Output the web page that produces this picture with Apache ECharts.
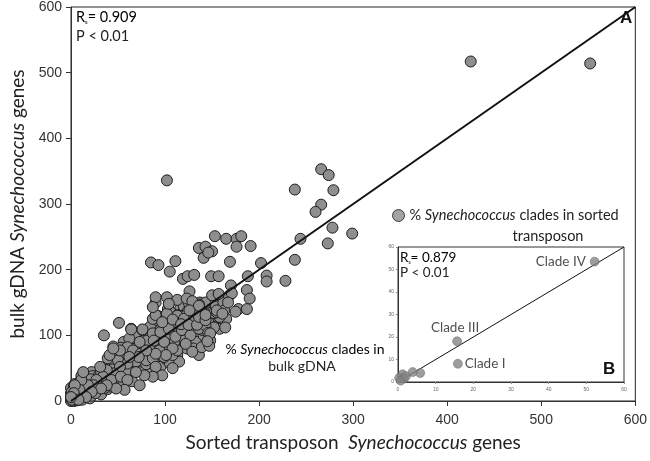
<!DOCTYPE html>
<html><head><meta charset="utf-8">
<script src="https://cdn.jsdelivr.net/npm/echarts@6/dist/echarts.min.js"></script>
<style>html,body{margin:0;padding:0;background:#fff}#c{width:650px;height:461px}</style>
</head><body><div id="c"></div>
<script>
// ---- main panel data: [sorted transposon genes, bulk gDNA genes] ----
const clusterCore = [
[0,0],[1,2],[2,1],[3,5],[5,3],[4,8],[6,6],[8,4],[7,10],[10,7],[9,13],[12,9],[11,16],[14,11],[13,19],[16,14],[15,22],[18,16],[17,25],[20,19],
[19,28],[22,22],[21,31],[24,25],[23,34],[26,28],[25,36],[28,30],[27,40],[30,33],[3,0],[6,1],[9,2],[12,4],[15,6],[18,8],[21,10],[24,13],[27,16],[30,19],
[33,22],[0,5],[1,9],[2,14],[3,18],[5,22],[8,27],[10,30],[0,12],[4,26],[2,3],[5,15],[7,20],[10,24],[13,27],[16,31],[18,36],[20,40],[22,44],[14,35],
[11,38],[0,20],
[2,4],[4,10],[6,16],[3,22],[8,12],[9,20],[5,2],[10,5],[7,8],[1,14],
[12,2],[14,8],[11,12],[15,15],[13,22],[17,20],[19,27],[16,30],[12,28],[18,11],[20,4],
[22,8],[24,16],[26,22],[21,24],[25,30],[28,35],[23,38],[29,12],[27,26],[30,40],[21,33],
[32,10],[34,24],[36,30],[31,28],[33,36],[38,40],[35,45],[39,18],[37,34],[40,28],[32,44],
[42,22],[44,36],[46,40],[41,50],[48,46],[43,58],[47,30],[49,55],[45,26],[50,38],[44,62],
[52,28],[54,44],[56,52],[51,60],[58,48],[53,68],[57,36],[59,58],[55,24],[60,66],[52,72],
[62,40],[64,50],[66,60],[61,72],[68,56],[63,85],[67,70],[70,48],[65,30],[69,88],[62,64],
[72,52],[74,62],[76,80],[71,70],[78,66],[73,95],[77,56],[79,90],[75,44],[80,74],
[82,60],[84,70],[86,86],[81,100],[88,80],[83,54],[87,96],[89,66],[85,48],[90,110],
[92,72],[94,84],[96,100],[91,118],[98,88],[93,60],[97,112],[99,76],[95,52],[100,96],
[102,86],[104,104],[106,118],[101,64],[108,96],[103,140],[107,76],[109,112],[105,58],[110,122],
[112,96],[114,110],[116,140],[111,84],[118,100],[113,70],[117,132],[119,118],[115,60],[120,144],
[122,106],[124,120],[126,142],[121,94],[128,112],[123,80],[127,132],[129,100],[125,150],
[132,110],[134,124],[136,100],[131,138],[138,118],[133,90],[137,150],[139,128],[135,76],
[142,118],[144,140],[146,110],[141,100],[148,126],[143,150],[147,96],[150,135],
[152,120],[154,145],[156,128],[158,110],[153,160],[160,140],
[162,150],[165,125],[168,160],[163,138],
[56,90],[66,96],[78,100],[84,84],[96,70],[104,90],[112,120],[118,130],[124,136],[132,124],
[140,108],[146,120],[152,112],[158,128],[164,112],[100,118],[90,100],[80,56],[70,64],[60,46],
[48,40],[36,20],[26,12],[44,48],[56,74]
];
const clusterMid = [
[51,119],[35,100],[45,83],[53,81],[43,70],[39,65],[50,62],[64,110],[69,103],[76,108],
[84,113],[94,107],[90,92],[104,98],[110,90],[102,82],[94,77],[81,92],[73,90],[62,95],
[60,82],[66,77],[74,72],[69,60],[80,62],[87,65],[90,52],[99,67],[108,70],[113,77],
[108,50],[97,39],[87,37],[73,24],[78,39],[69,44],[60,57],[52,52],[45,42],[38,47],
[34,37],[27,32],[24,24],[18,24],[11,32],[13,44],[31,52],[43,32],[53,37],[60,32],
[57,17],[48,19],[38,24],[32,19],[22,14],[16,6],[9,17],[4,24],[3,12],[1,2],[8,2],[0,6],
[92,130],[101,125],[108,133],[90,150],[104,148],
[87,125],[97,128],[106,135],[113,130],[117,123],[122,130],[130,139],[136,147],[142,133],[152,134],
[150,161],[155,135],[64,109],[76,109],[87,103],[95,105],[104,110],[111,98],[118,108],[127,100],
[136,110],[143,115],[148,92],[146,104],[130,80],[136,70],[108,80],[101,70],[90,72],[80,77],
[72,67],[62,67],[52,77],[41,70],[45,80],[88,92],[99,90],[122,87],[139,82],
[90,131],[102,133],[113,130],[120,125],[108,124],[97,120],[117,117],[125,116],[134,116],[136,128],[143,123]
];
const clusterUpper = [
[153,251],[165,247],[176,247],[181,251],[176,235],[191,236],[136,233],[143,235],[150,228],[141,218],
[146,226],[85,211],[93,207],[111,213],[105,197],[119,186],[124,190],[131,192],[149,190],[157,190],
[188,190],[208,191],[208,182],[202,210],[169,212],[238,215],[228,183],[126,167],[90,158],[87,143],
[102,158],[113,154],[123,156],[104,148],[129,152],[136,145],[126,138],[143,131],[170,176],[171,164],
[157,163],[167,150],[187,169],[190,156],[178,140],[187,140],[175,136],[155,138],[161,133],[148,103],
[147,84],[145,91],[129,75]
];
const outliers = [
[102,336],[266,353],[274,344],[238,322],[279,321],[266,299],[260,288],[278,264],[299,255],[244,247],
[273,240],[425,517],[552,514]
];
const identityLine = [[0,0],[600,600]];
const mainTicks = [0,100,200,300,400,500,600];

// ---- inset (B): % Synechococcus clades ----
const cladeSorted = [52.2,15.7,15.9,5.9,3.9,1.2,0.3,1.6,0.7,2.1];
const cladeBulk   = [53.5,18.1,8.1,4.0,4.4,3.4,1.8,1.5,0.6,2.6];
const cladeNames  = ['Clade IV','Clade III','Clade I','','','','','','',''];
const insetLine = [[0,0],[60,60]];
const insetTicks = [0,10,20,30,40,50,60];

const TXT = 'Lato';
const chart = echarts.init(document.getElementById('c'), null, {renderer:'canvas'});
const labelPos = {'Clade IV':{position:'left',distance:4},'Clade III':{position:'top',distance:2,offset:[-2,0]},'Clade I':{position:'right',distance:2}};

const insetData = cladeSorted.map((x,i)=>{
  const d = {value:[x,cladeBulk[i]], name:cladeNames[i]};
  if (cladeNames[i]) {
    d.label = Object.assign({show:true, formatter:'{b}', fontFamily:TXT, fontSize:13.5, color:'#222'}, labelPos[cladeNames[i]]);
  }
  return d;
});

const option = {
  animation:false,
  backgroundColor:'#fff',
  grid:[
    {left:71, top:5, right:9, bottom:60, show:true, borderColor:'#222', borderWidth:1, backgroundColor:'transparent'},
    {left:398, top:247, width:226, height:135, show:true, borderColor:'#333', borderWidth:1, backgroundColor:'#fff', z:5}
  ],
  xAxis:[
    {type:'value', gridIndex:0, min:mainTicks[0], max:mainTicks[mainTicks.length-1], interval:100,
     axisLine:{show:true, lineStyle:{color:'#333', width:1}}, axisTick:{show:true, length:5, lineStyle:{color:'#333'}},
     splitLine:{show:false},
     axisLabel:{fontFamily:'Liberation Sans', fontSize:14, color:'#333', margin:12},
     name:'{n|Sorted transposon  }{i|Synechococcus}{n| genes}', nameLocation:'middle', nameGap:32,
     nameTextStyle:{rich:{n:{fontFamily:TXT, fontSize:19, color:'#222'}, i:{fontFamily:TXT, fontSize:19, fontStyle:'italic', color:'#222'}}}},
    {type:'value', gridIndex:1, min:insetTicks[0], max:insetTicks[insetTicks.length-1], interval:10,
     axisLine:{show:true, lineStyle:{color:'#333'}}, axisTick:{show:true, length:2, lineStyle:{color:'#888'}},
     splitLine:{show:false}, axisLabel:{fontFamily:'Liberation Sans', fontSize:5, color:'#666', margin:5}, z:6}
  ],
  yAxis:[
    {type:'value', gridIndex:0, min:mainTicks[0], max:mainTicks[mainTicks.length-1], interval:100,
     axisLine:{show:true, lineStyle:{color:'#333', width:1}}, axisTick:{show:true, length:5, lineStyle:{color:'#333'}},
     splitLine:{show:false},
     axisLabel:{fontFamily:'Liberation Sans', fontSize:14, color:'#333', margin:9},
     name:'{n|bulk gDNA }{i|Synechococcus}{n| genes}', nameLocation:'middle', nameGap:36, nameRotate:90,
     nameTextStyle:{rich:{n:{fontFamily:TXT, fontSize:19, color:'#222'}, i:{fontFamily:TXT, fontSize:19, fontStyle:'italic', color:'#222'}}}},
    {type:'value', gridIndex:1, min:insetTicks[0], max:insetTicks[insetTicks.length-1], interval:10,
     axisLine:{show:true, lineStyle:{color:'#333'}}, axisTick:{show:true, length:2, lineStyle:{color:'#888'}},
     splitLine:{show:false}, axisLabel:{fontFamily:'Liberation Sans', fontSize:5, color:'#666', margin:4}, z:6}
  ],
  legend:{
    show:true, selectedMode:false, left:392, top:208, padding:0, itemWidth:12, itemHeight:12, itemGap:5,
    data:[{name:'sorted', icon:'circle', itemStyle:{color:'#8c8c8c', borderColor:'#1a1a1a', borderWidth:1}}],
    formatter:()=> '{n|% }{i|Synechococcus}{n| clades in sorted}',
    textStyle:{rich:{n:{fontFamily:TXT, fontSize:14.5, color:'#222'}, i:{fontFamily:TXT, fontSize:14.5, fontStyle:'italic', color:'#222'}}}
  },
  series:[
    {type:'scatter', xAxisIndex:0, yAxisIndex:0, symbolSize:11, name:'main',
     data:[].concat(clusterCore, clusterMid, clusterUpper, outliers),
     itemStyle:{color:'#8e8e8e', borderColor:'#1c1c1c', borderWidth:1, opacity:1}, z:2},
    {type:'line', xAxisIndex:0, yAxisIndex:0, data:identityLine, symbol:'none',
     lineStyle:{color:'#111', width:2}, z:3, silent:true},
    {type:'line', xAxisIndex:1, yAxisIndex:1, data:insetLine, symbol:'none',
     lineStyle:{color:'#111', width:1}, z:7, silent:true},
    {type:'scatter', name:'sorted', xAxisIndex:1, yAxisIndex:1, symbolSize:9, data:insetData,
     itemStyle:{color:'#858585', borderColor:'#666', borderWidth:0.6}, z:8}
  ],
  graphic:[
    {type:'text', left:76, top:10, z:20, style:{text:'{r|R}{s|s}{r|= 0.909}', rich:{r:{fontFamily:TXT, fontSize:14.5, color:'#222'}, s:{fontFamily:TXT, fontSize:6, color:'#222', verticalAlign:'bottom'}}}},
    {type:'text', left:76, top:29, z:20, style:{text:'P < 0.01', fontFamily:TXT, fontSize:14.5, fill:'#222'}},
    {type:'text', left:620, top:10, z:20, style:{text:'A', fontFamily:'Liberation Sans', fontWeight:'bold', fontSize:17, fill:'#111'}},
    {type:'text', left:603, top:361, z:20, style:{text:'B', fontFamily:'Liberation Sans', fontWeight:'bold', fontSize:17, fill:'#111'}},
    {type:'text', x:548, y:236, z:20, style:{text:'transposon', fontFamily:TXT, fontSize:14.5, fill:'#222', align:'center', verticalAlign:'middle'}},
    {type:'text', x:305, y:349, z:20, style:{text:'{n|% }{i|Synechococcus}{n| clades in}', align:'center', verticalAlign:'middle', rich:{n:{fontFamily:TXT, fontSize:14, color:'#222'}, i:{fontFamily:TXT, fontSize:14, fontStyle:'italic', color:'#222'}}}},
    {type:'text', x:302, y:366, z:20, style:{text:'bulk gDNA', fontFamily:TXT, fontSize:14, fill:'#222', align:'center', verticalAlign:'middle'}},
    {type:'text', left:400, top:251, z:20, style:{text:'{r|R}{s|s}{r|= 0.879}', rich:{r:{fontFamily:TXT, fontSize:13.5, color:'#222'}, s:{fontFamily:TXT, fontSize:5, color:'#222', verticalAlign:'bottom'}}}},
    {type:'text', left:400, top:266, z:20, style:{text:'P < 0.01', fontFamily:TXT, fontSize:13.5, fill:'#222'}}
  ]
};
chart.setOption(option);
</script>
</body></html>
